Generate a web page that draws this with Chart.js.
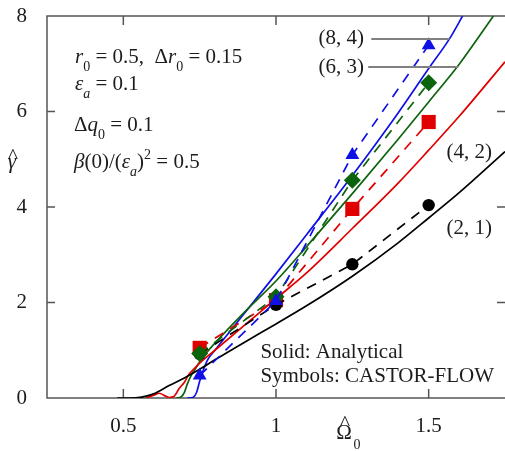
<!DOCTYPE html>
<html>
<head>
<meta charset="utf-8">
<script src="https://cdn.jsdelivr.net/npm/chart.js@4/dist/chart.umd.min.js"></script>
<style>
  html, body { margin: 0; padding: 0; background: #fff; }
  canvas { display: block; }
</style>
</head>
<body>
<canvas id="growth" width="505" height="451"></canvas>
<script>
// tick positions
var omegaTicks = [0.5, 1, 1.5];
var gammaTicks = [0, 2, 4, 6, 8];

// analytical growth rates, one curve per (m, n)
var omegaBlack = [0.48, 0.52, 0.56, 0.6, 0.65, 0.7, 0.75, 0.8, 0.9, 1.0, 1.1, 1.25, 1.4, 1.5, 1.6, 1.75];
var gammaBlack = [0, 0, 0.02, 0.09, 0.26, 0.42, 0.6, 0.8, 1.18, 1.55, 1.93, 2.55, 3.25, 3.77, 4.3, 5.16];

var omegaRed = [0.575, 0.6, 0.618, 0.635, 0.65, 0.665, 0.683, 0.7, 0.715, 0.73, 0.75, 0.8, 0.9, 1.0, 1.1, 1.25, 1.4, 1.5, 1.6, 1.75];
var gammaRed = [0, 0.06, 0.1, 0.05, 0.01, 0.03, 0.2, 0.33, 0.5, 0.6, 0.73, 1.0, 1.54, 2.08, 2.62, 3.55, 4.5, 5.19, 5.9, 7.04];

var omegaGreen = [0.673, 0.69, 0.7, 0.71, 0.722, 0.738, 0.75, 0.77, 0.8, 0.9, 1.0, 1.1, 1.25, 1.4, 1.5, 1.6, 1.712];
var gammaGreen = [0, 0.03, 0.12, 0.3, 0.47, 0.63, 0.76, 0.93, 1.15, 1.82, 2.45, 3.17, 4.28, 5.42, 6.2, 6.99, 8.0];

var omegaBlue = [0.71, 0.727, 0.74, 0.75, 0.76, 0.776, 0.8, 0.9, 1.0, 1.1, 1.25, 1.4, 1.5, 1.568, 1.611];
var gammaBlue = [0, 0.01, 0.12, 0.35, 0.55, 0.8, 1.0, 1.8, 2.6, 3.42, 4.66, 5.97, 6.9, 7.52, 8.0];

// CASTOR-FLOW runs
var omegaRuns = [0.75, 1.0, 1.25, 1.5];
var castorBlack = [0.92, 1.95, 2.8, 4.04];
var castorRed = [1.05, 2.05, 3.96, 5.78];
var castorGreen = [0.93, 2.12, 4.56, 6.6];
var castorBlue = [0.47, 2.03, 5.09, 7.39];

var SERIF = '"Liberation Serif", "Times New Roman", serif';
var INK = '#1c1c1c';
var BLACK = '#000000', RED = '#e00000', GREEN = '#0b640b', BLUE = '#1010e6';

function pairs(xs, ys) {
    return xs.map(function (x, i) { return {x: x, y: ys[i]}; });
}

function analytical(xs, ys, color) {
    return {
        data: pairs(xs, ys),
        showLine: true,
        borderColor: color,
        borderWidth: 1.7,
        pointRadius: 0,
        cubicInterpolationMode: 'monotone',
        order: 10
    };
}

function castor(ys, color, style, radius, order) {
    return {
        data: pairs(omegaRuns, ys),
        showLine: true,
        borderColor: color,
        borderWidth: 1.7,
        borderDash: [10, 8],
        pointStyle: style,
        pointRadius: radius,
        pointBackgroundColor: color,
        pointBorderWidth: 0,
        order: order
    };
}

// no extra room for half-labels at the scale ends
function noScalePadding(scale) {
    scale.paddingLeft = 0;
    scale.paddingRight = 0;
    scale.paddingTop = 0;
    scale.paddingBottom = 0;
}

// draws a run of text pieces with italics, subscripts and superscripts
function drawRuns(ctx, x, y, runs) {
    runs.forEach(function (r) {
        var size = (r.sub || r.sup) ? 14 : 21;
        ctx.font = (r.it ? 'italic ' : '') + size + 'px ' + SERIF;
        var dy = r.sub ? 8 : (r.sup ? -9 : 0);
        ctx.fillText(r.t, x, y + dy);
        x += ctx.measureText(r.t).width;
    });
}

var framePlugin = {
    id: 'frame',
    beforeDatasetsDraw: function (chart) {
        var ctx = chart.ctx, a = chart.chartArea;
        var xs = chart.scales.x, ys = chart.scales.y;
        ctx.save();
        ctx.strokeStyle = '#555';
        ctx.lineWidth = 1.5;
        ctx.beginPath();
        ctx.moveTo(a.right, a.top);
        ctx.lineTo(a.left, a.top);
        ctx.lineTo(a.left, a.bottom);
        ctx.lineTo(a.right, a.bottom);
        // inward ticks
        omegaTicks.forEach(function (v) {
            var px = xs.getPixelForValue(v);
            ctx.moveTo(px, a.bottom); ctx.lineTo(px, a.bottom - 9);
            ctx.moveTo(px, a.top); ctx.lineTo(px, a.top + 9);
        });
        gammaTicks.forEach(function (v) {
            var py = ys.getPixelForValue(v);
            ctx.moveTo(a.left, py); ctx.lineTo(a.left + 8, py);
            ctx.moveTo(a.right, py); ctx.lineTo(a.right - 8, py);
        });
        ctx.stroke();
        ctx.restore();
    },
    afterDraw: function (chart) {
        var ctx = chart.ctx;
        var xs = chart.scales.x, ys = chart.scales.y;
        function X(v) { return xs.getPixelForValue(v); }
        function Y(v) { return ys.getPixelForValue(v); }

        ctx.save();
        ctx.fillStyle = INK;
        ctx.textBaseline = 'alphabetic';
        ctx.textAlign = 'left';

        // run parameters
        drawRuns(ctx, 75, 63, [
            {t: 'r', it: true}, {t: '0', sub: true}, {t: ' = 0.5,  \u0394'},
            {t: 'r', it: true}, {t: '0', sub: true}, {t: ' = 0.15'}
        ]);
        drawRuns(ctx, 75, 90, [
            {t: '\u03b5', it: true}, {t: 'a', it: true, sub: true}, {t: ' = 0.1'}
        ]);
        drawRuns(ctx, 74, 131, [
            {t: '\u0394'}, {t: 'q', it: true}, {t: '0', sub: true}, {t: ' = 0.1'}
        ]);
        drawRuns(ctx, 74, 168, [
            {t: '\u03b2', it: true}, {t: '(0)/('}, {t: '\u03b5', it: true},
            {t: 'a', it: true, sub: true}, {t: ')'}, {t: '2', sup: true}, {t: ' = 0.5'}
        ]);

        // method note
        ctx.font = '21px ' + SERIF;
        ctx.textBaseline = 'middle';
        ctx.fillText('Solid: Analytical', X(0.949), Y(0.96));
        ctx.fillText('Symbols: CASTOR-FLOW', X(0.949), Y(0.46));

        // mode labels
        ctx.textAlign = 'center';
        ctx.fillText('(8, 4)', X(1.214), Y(7.52));
        ctx.fillText('(6, 3)', X(1.214), Y(6.93));
        ctx.fillText('(4, 2)', X(1.633), Y(5.15));
        ctx.fillText('(2, 1)', X(1.633), Y(3.54));

        // leader lines
        ctx.strokeStyle = '#808080';
        ctx.lineWidth = 2;
        ctx.beginPath();
        ctx.moveTo(X(1.312), Y(7.52)); ctx.lineTo(X(1.568), Y(7.52));
        ctx.moveTo(X(1.302), Y(6.93)); ctx.lineTo(X(1.597), Y(6.93));
        ctx.stroke();

        // axis titles
        ctx.textBaseline = 'alphabetic';
        ctx.font = '22px ' + SERIF;
        ctx.fillText('^', 13, 163);
        ctx.font = 'italic 21px ' + SERIF;
        ctx.fillText('\u03b3', 12, 168);

        ctx.font = '22px ' + SERIF;
        ctx.fillText('^', 345, 430);
        ctx.font = '21px ' + SERIF;
        ctx.fillText('\u03a9', 344, 439);
        ctx.font = '14px ' + SERIF;
        ctx.fillText('0', 357, 449);
        ctx.restore();
    }
};

new Chart(document.getElementById('growth'), {
    type: 'scatter',
    data: {
        datasets: [
            analytical(omegaBlack, gammaBlack, BLACK),
            analytical(omegaRed, gammaRed, RED),
            analytical(omegaGreen, gammaGreen, GREEN),
            analytical(omegaBlue, gammaBlue, BLUE),
            castor(castorRed, RED, 'rect', 10, 5),
            castor(castorBlack, BLACK, 'circle', 6.2, 4),
            castor(castorGreen, GREEN, 'rectRot', 8.5, 3),
            castor(castorBlue, BLUE, 'triangle', 8, 2)
        ]
    },
    options: {
        responsive: false,
        animation: false,
        devicePixelRatio: 1,
        events: [],
        layout: {
            autoPadding: false,
            padding: { top: 16, right: 0, left: 0, bottom: 0 }
        },
        plugins: { legend: { display: false }, tooltip: { enabled: false } },
        scales: {
            x: {
                type: 'linear',
                min: 0.25,
                max: 1.75,
                grid: { display: false },
                border: { display: false },
                afterBuildTicks: function (scale) {
                    scale.ticks = omegaTicks.map(function (v) { return {value: v}; });
                },
                afterFit: function (scale) {
                    scale.height = 53;
                    noScalePadding(scale);
                },
                ticks: {
                    padding: 8,
                    color: INK,
                    maxRotation: 0,
                    font: { family: SERIF, size: 21 },
                    callback: function (v) { return String(v); }
                }
            },
            y: {
                type: 'linear',
                min: 0,
                max: 8,
                grid: { display: false },
                border: { display: false },
                afterBuildTicks: function (scale) {
                    scale.ticks = gammaTicks.map(function (v) { return {value: v}; });
                },
                afterFit: function (scale) {
                    scale.width = 47;
                    noScalePadding(scale);
                },
                ticks: {
                    padding: 12,
                    color: INK,
                    font: { family: SERIF, size: 21 },
                    callback: function (v) { return String(v); }
                }
            }
        }
    },
    plugins: [framePlugin]
});
</script>
</body>
</html>
